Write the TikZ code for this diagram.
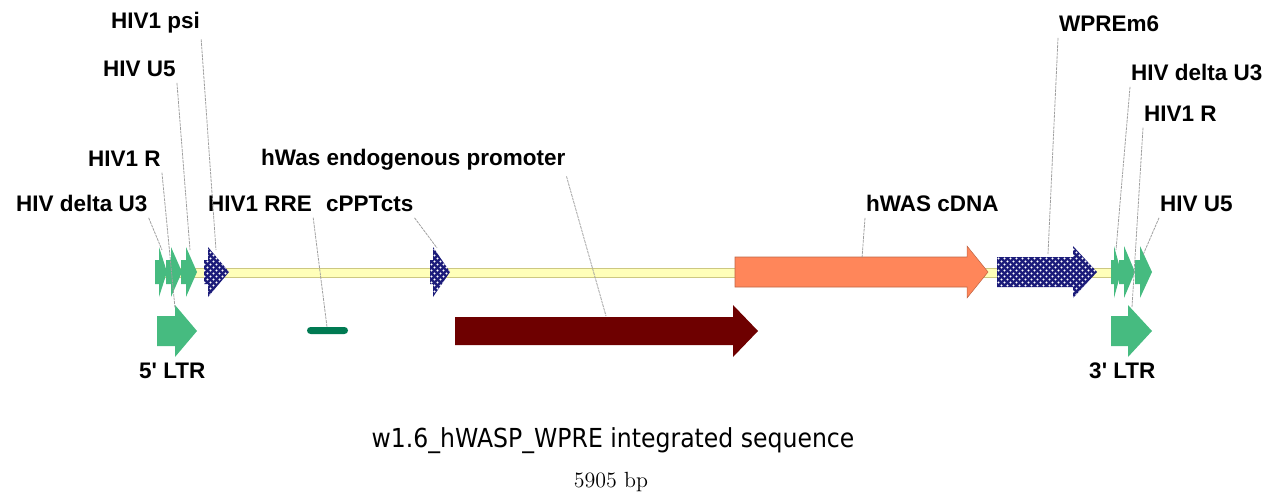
\documentclass[tikz,border=0pt]{standalone}
\usepackage{fontspec}
\newfontfamily\lblfont{Liberation Sans}
\newfontfamily\titlefont[FakeStretch=0.9]{DejaVu Sans}
\usetikzlibrary{patterns.meta}

\definecolor{ltrgreen}{RGB}{70,187,128}
\definecolor{rregreen}{RGB}{0,122,82}
\definecolor{navyblue}{RGB}{28,28,122}
\definecolor{cdnaorange}{RGB}{255,134,90}
\definecolor{promred}{RGB}{110,0,0}
\definecolor{barfill}{RGB}{255,255,185}
\definecolor{barline}{RGB}{205,200,130}

% white dot texture used on the navy features
\tikzdeclarepattern{
  name=wdots,
  type=uncolored,
  bottom left={(0pt,0pt)},
  top right={(3.4pt,3.4pt)},
  tile size={(3.4pt,3.4pt)},
  code={
    \fill (0.85pt,0.85pt) circle (0.62pt);
    \fill (2.55pt,2.55pt) circle (0.62pt);
  }
}

% block arrow: [style]{start x}{head x}{tip x}{centre y}{body half height}{head half height}
\newcommand\genearrow[7][]{%
  \fill[#1] (#2,#5-#6) -- (#3,#5-#6) -- (#3,#5-#7) -- (#4,#5)
    -- (#3,#5+#7) -- (#3,#5+#6) -- (#2,#5+#6) -- cycle;}

\begin{document}
\begin{tikzpicture}[x=0.02cm,y=-0.02cm,
  lbl/.style={font=\lblfont\bfseries\fontsize{12.8}{14}\selectfont,
    inner xsep=0.5pt, inner ysep=3pt, anchor=base west},
  leader/.style={draw=gray!75, line width=0.45pt, dash pattern=on 1.6pt off 0.5pt},
  greenft/.style={fill=ltrgreen},
  blueft/.style={preaction={fill=navyblue}, pattern=wdots, pattern color=white},
  orangeft/.style={fill=cdnaorange, draw=cdnaorange!75!black, line width=0.3pt},
  redft/.style={fill=promred}]
\useasboundingbox (0,0) rectangle (1267,493);

% backbone
\draw[fill=barfill, draw=barline, line width=0.4pt] (155,268) rectangle (1112,277);

% 5' LTR pieces
\genearrow[greenft]{155}{159}{167}{272}{12}{25}
\genearrow[greenft]{166}{171}{182}{272}{12}{25}
\genearrow[greenft]{181}{186}{197}{272}{12}{25}
% HIV1 psi and cPPTcts
\genearrow[blueft]{204}{208}{229}{272}{12}{25}
\genearrow[blueft]{430}{433}{450}{272}{12}{25}
% hWAS cDNA
\genearrow[orangeft]{735}{967}{988}{272}{15}{26}
% WPREm6
\genearrow[blueft]{997}{1073}{1097}{272}{15}{26}
% 3' LTR pieces
\genearrow[greenft]{1111}{1114}{1121}{272}{12}{26}
\genearrow[greenft]{1119}{1124}{1135}{272}{12}{26}
\genearrow[greenft]{1135}{1140}{1152}{272}{12}{26}

% lower track
\genearrow[greenft]{157}{175}{197}{331}{15}{26}
\genearrow[greenft]{1111}{1128}{1152}{331}{15}{26}
\genearrow[redft]{455}{733}{758}{331}{14}{26}
\fill[rregreen, rounded corners=2pt] (307,327) rectangle (348,334);

% feature points the leaders go to
\coordinate (e-dU3L) at (162,250);
\coordinate (e-RL)   at (175,308);
\coordinate (e-U5L)  at (190,250);
\coordinate (e-psi)  at (216,250);
\coordinate (e-RRE)  at (327,327);
\coordinate (e-cPPT) at (437,248);
\coordinate (e-prom) at (606,316);
\coordinate (e-cDNA) at (862,258);
\coordinate (e-WPRE) at (1048,254);
\coordinate (e-dU3R) at (1116,250);
\coordinate (e-RR)   at (1132,307);
\coordinate (e-U5R)  at (1143,255);

% labels
\node[lbl] (dU3L) at (15,212)   {HIV delta U3};
\node[lbl] (RL)   at (87,167)   {HIV1 R};
\node[lbl] (U5L)  at (102,77)   {HIV U5};
\node[lbl] (psi)  at (110,29)   {HIV1 psi};
\node[lbl] (RRE)  at (207,212)  {HIV1 RRE};
\node[lbl] (cPPT) at (325,212)  {cPPTcts};
\node[lbl] (prom) at (260,166)  {hWas endogenous promoter};
\node[lbl] (cDNA) at (865,212)  {hWAS cDNA};
\node[lbl] (WPRE) at (1058,32)  {WPREm6};
\node[lbl] (dU3R) at (1130,81)  {HIV delta U3};
\node[lbl] (RR)   at (1143,122) {HIV1 R};
\node[lbl] (U5R)  at (1159,212) {HIV U5};
\node[lbl] (ltr5) at (138,378)  {5' LTR};
\node[lbl] (ltr3) at (1088,378) {3' LTR};

% leaders
\draw[leader] (dU3L.south east) -- (e-dU3L);
\draw[leader] (RL.south east)   -- (e-RL);
\draw[leader] (U5L.south east)  -- (e-U5L);
\draw[leader] (psi.south east)  -- (e-psi);
\draw[leader] (RRE.south east)  -- (e-RRE);
\draw[leader] (cPPT.south east) -- (e-cPPT);
\draw[leader] (prom.south east) -- (e-prom);
\draw[leader] (cDNA.south west) -- (e-cDNA);
\draw[leader] (WPRE.south west) -- (e-WPRE);
\draw[leader] (dU3R.south west) -- (e-dU3R);
\draw[leader] (RR.south west)   -- (e-RR);
\draw[leader] (U5R.south west)  -- (e-U5R);

% caption
\node[font=\titlefont\fontsize{14.9}{17}\selectfont, anchor=base] (title) at (613,447)
  {w1.6\_hWASP\_WPRE integrated sequence};
\node[font=\fontsize{12.5}{14}\selectfont, anchor=base] (size) at (611,487)
  {\oldstylenums{5905} bp};
\end{tikzpicture}
\end{document}
